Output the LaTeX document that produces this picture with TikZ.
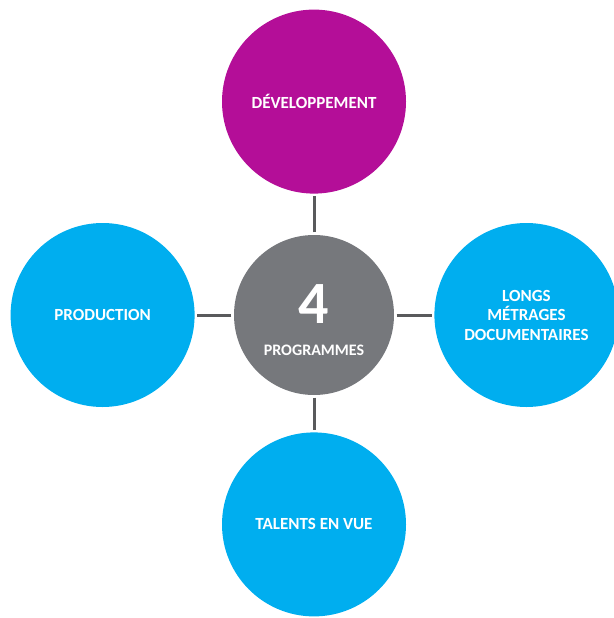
\documentclass[tikz,border=0pt]{standalone}
\usepackage{fontspec}
\setmainfont{Carlito}
\usepackage{xcolor}
\usetikzlibrary{positioning}

\definecolor{progblue}{HTML}{00AEEF}
\definecolor{progpink}{HTML}{B40E98}
\definecolor{proggray}{HTML}{76787C}
\definecolor{linkgray}{HTML}{595A5C}

\begin{document}
\begin{tikzpicture}[x=1pt,y=1pt]

    % hub with the four programmes round it
    \edef\sizehub{160pt}
    \edef\sizesat{184pt}
    \tikzstyle{hub}=[circle,fill=proggray,minimum size=\sizehub,inner sep=0pt]
    \tikzstyle{sat}=[circle,fill=progblue,minimum size=\sizesat,inner sep=0pt,text=white,align=center,font=\fontsize{17}{19.5}\selectfont\bfseries]
    \tikzstyle{hubtext}=[text=white,inner sep=0pt,font=\bfseries]
    \tikzstyle{link}=[draw=linkgray,line width=3pt,shorten <=2.5pt,shorten >=2.5pt]

    \useasboundingbox (0,0) rectangle (613,-618);

    \node [hub] (hub) at (314,-315) {};
    \node [hubtext,font=\fontsize{60}{60}\selectfont\bfseries] (num) at ([yshift=11pt]hub.center) {4};
    \node [hubtext,font=\fontsize{16}{19}\selectfont\bfseries] (title) at ([yshift=-35pt]hub.center) {PROGRAMMES};

    \node [sat,fill=progpink,above=41pt of hub] (dev) {DÉVELOPPEMENT};
    \node [sat,left=39pt of hub] (prod) {PRODUCTION};
    \node [sat,right=40pt of hub] (docs) {LONGS\\MÉTRAGES\\DOCUMENTAIRES};
    \node [sat,below=37pt of hub] (talents) {TALENTS EN VUE};

    \draw[link] (hub) -- (dev);
    \draw[link] (hub) -- (prod);
    \draw[link] (hub) -- (docs);
    \draw[link] (hub) -- (talents);

\end{tikzpicture}
\end{document}
